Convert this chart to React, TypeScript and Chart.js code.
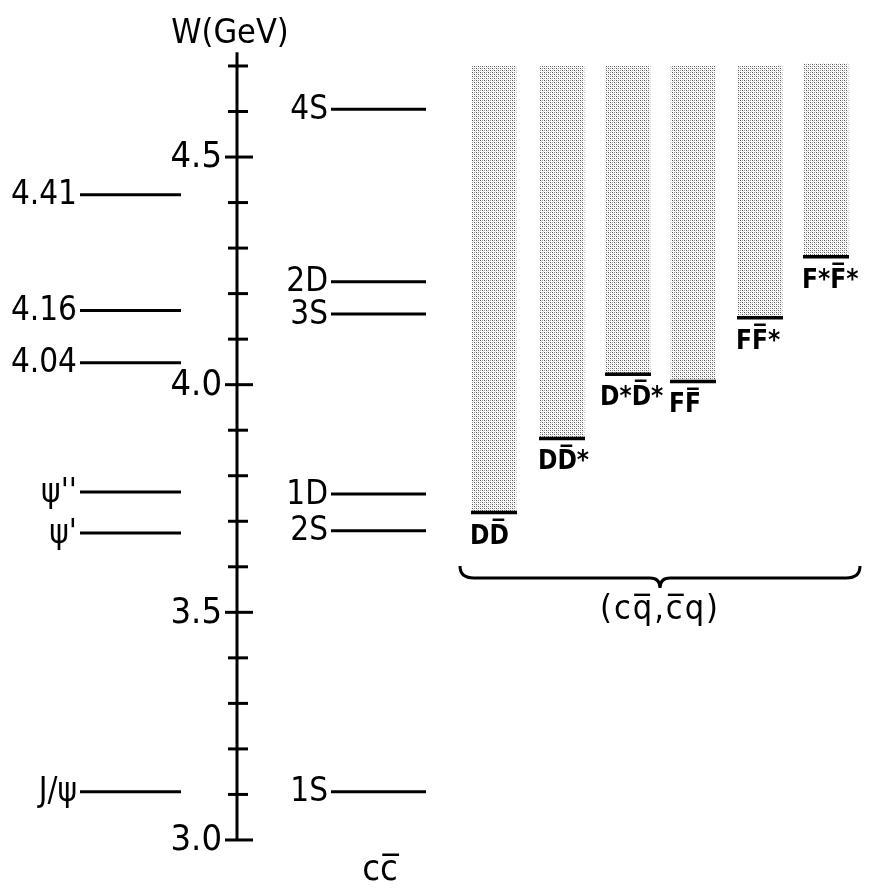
import React, { useEffect, useRef } from "react";
import { Chart, registerables } from "chart.js";
Chart.register(...registerables);

// ---------- data ----------
const observedNames = ["J/ψ", "ψ'", "ψ''", "4.04", "4.16", "4.41"];
const observedMass = [3.106, 3.674, 3.764, 4.048, 4.163, 4.417];
const modelNames = ["1S", "2S", "1D", "3S", "2D", "4S"];
const modelMass = [3.106, 3.679, 3.76, 4.155, 4.226, 4.605];
const channelNames = ["DD\u0305", "DD\u0305*", "D*D\u0305*", "FF\u0305", "FF\u0305*", "F*F\u0305*"];
const thresholdMass = [3.719, 3.882, 4.023, 4.007, 4.147, 4.281];
const bandTopMass = [4.7, 4.7, 4.7, 4.7, 4.7, 4.705];
const tickValues = [3.0, 3.1, 3.2, 3.3, 3.4, 3.5, 3.6, 3.7, 3.8, 3.9, 4.0, 4.1, 4.2, 4.3, 4.4, 4.5, 4.6, 4.7];
const tickLabelValues = [3.0, 3.5, 4.0, 4.5];
const tickLabels = ["3.0", "3.5", "4.0", "4.5"];
const axisMin = 3.0;
const axisMax = 4.73;
const axisTitle = "W(GeV)";
const modelTitle = "cc\u0305";
const channelTitle = "(cq\u0305,c\u0305q)";

// ---------- layout ----------
const W = 870;
const H = 888;
const Y_MIN = 2.8945;
const Y_MAX = 4.8449;
const AXIS_X = 237;
const OBS_X = [80, 181];
const MOD_X = [331, 426];
const BAND_X = [494, 562, 628, 693, 760, 826];
const BAND_W = 44;
const FONT = "'DejaVu Sans Condensed', 'DejaVu Sans', sans-serif";

function makePattern(): CanvasPattern | string {
  const c = document.createElement("canvas");
  c.width = 4;
  c.height = 4;
  const g = c.getContext("2d");
  if (!g) return "#bbb";
  g.fillStyle = "#fff";
  g.fillRect(0, 0, 4, 4);
  g.fillStyle = "#555";
  g.fillRect(0, 0, 1, 1);
  g.fillRect(2, 2, 1, 1);
  g.fillStyle = "#999";
  g.fillRect(2, 0, 1, 1);
  g.fillRect(0, 2, 1, 1);
  g.fillStyle = "#e0e0e0";
  g.fillRect(1, 1, 1, 1);
  g.fillRect(3, 3, 1, 1);
  return g.createPattern(c, "repeat") || "#bbb";
}

const seg = (x1: number, x2: number, v: number) => [
  { x: x1, y: v },
  { x: x2, y: v },
];

export default function App() {
  const ref = useRef<HTMLCanvasElement | null>(null);
  useEffect(() => {
    if (!ref.current) return;
    const pattern = makePattern();
    const lineDs = (data: any[], width = 3) => ({
      type: "line" as const,
      data,
      borderColor: "#000",
      borderWidth: width,
      pointRadius: 0,
      fill: false,
      tension: 0,
      spanGaps: false,
      order: 0,
      borderCapStyle: "butt" as const,
    });
    const datasets: any[] = [];
    datasets.push({
      type: "bar",
      data: BAND_X.map((x, i) => ({ x, y: [thresholdMass[i], bandTopMass[i]] })),
      backgroundColor: pattern,
      borderWidth: 0,
      barThickness: BAND_W,
      grouped: false,
      order: 5,
    });
    observedMass.forEach((m) => datasets.push(lineDs(seg(OBS_X[0], OBS_X[1], m), 3)));
    modelMass.forEach((m) => datasets.push(lineDs(seg(MOD_X[0], MOD_X[1], m), 3)));
    thresholdMass.forEach((m, i) =>
      datasets.push(lineDs(seg(BAND_X[i] - BAND_W / 2 - 1, BAND_X[i] + BAND_W / 2 + 1, m), 3.5))
    );
    // axis line
    datasets.push(lineDs([{ x: AXIS_X, y: axisMin }, { x: AXIS_X, y: axisMax }], 3));
    // tick marks
    tickValues.forEach((v) => {
      const major = tickLabelValues.some((t) => Math.abs(t - v) < 1e-6);
      datasets.push(lineDs(seg(AXIS_X - (major ? 12 : 9), AXIS_X + (major ? 16 : 11), v), 3));
    });

    const annot = {
      id: "annot",
      afterDatasetsDraw(chart: any) {
        const ctx = chart.ctx as CanvasRenderingContext2D;
        const ys = chart.scales.y;
        ctx.save();
        ctx.fillStyle = "#000";
        ctx.textBaseline = "middle";
        // tick labels
        ctx.font = `36px ${FONT}`;
        ctx.textAlign = "right";
        tickLabelValues.forEach((v, i) => {
          ctx.fillText(tickLabels[i], AXIS_X - 15, ys.getPixelForValue(v) + 1);
        });
        // level labels
        ctx.font = `33px ${FONT}`;
        observedMass.forEach((m, i) => {
          ctx.fillText(observedNames[i], OBS_X[0] - 3, ys.getPixelForValue(m) + 1);
        });
        modelMass.forEach((m, i) => {
          ctx.fillText(modelNames[i], MOD_X[0] - 3, ys.getPixelForValue(m) + 1);
        });
        // channel labels
        ctx.textAlign = "left";
        ctx.textBaseline = "alphabetic";
        ctx.font = `bold 26px ${FONT}`;
        thresholdMass.forEach((m, i) => {
          const x = BAND_X[i] - BAND_W / 2 - (i === 2 ? 6 : 2);
          ctx.fillText(channelNames[i], x, ys.getPixelForValue(m) + 31);
        });
        // titles
        ctx.textAlign = "center";
        ctx.font = `34px ${FONT}`;
        ctx.fillText(axisTitle, 230, 43);
        ctx.font = `36px ${FONT}`;
        ctx.fillText(modelTitle, 380, 880);
        // brace
        const bx1 = BAND_X[0] - BAND_W / 2 - 12;
        const bx2 = BAND_X[5] + BAND_W / 2 + 12;
        const mid = (bx1 + bx2) / 2;
        const top = 566;
        const by = 578;
        const tip = 588;
        ctx.strokeStyle = "#000";
        ctx.lineWidth = 3;
        ctx.beginPath();
        ctx.moveTo(bx1, top);
        ctx.quadraticCurveTo(bx1, by, bx1 + 14, by);
        ctx.lineTo(mid - 10, by);
        ctx.quadraticCurveTo(mid, by, mid, tip);
        ctx.quadraticCurveTo(mid, by, mid + 10, by);
        ctx.lineTo(bx2 - 14, by);
        ctx.quadraticCurveTo(bx2, by, bx2, top);
        ctx.stroke();
        ctx.font = `34px ${FONT}`;
        (ctx as any).letterSpacing = "2px";
        ctx.fillText(channelTitle, mid, 619);
        (ctx as any).letterSpacing = "0px";
        ctx.restore();
      },
    };

    const chart = new Chart(ref.current, {
      type: "bar",
      data: { datasets },
      options: {
        animation: false,
        responsive: false,
        devicePixelRatio: 1,
        layout: { padding: 0 },
        plugins: { legend: { display: false }, tooltip: { enabled: false } },
        scales: {
          x: { type: "linear", min: 0, max: W, offset: false, display: false },
          y: { type: "linear", min: Y_MIN, max: Y_MAX, display: false },
        },
      },
      plugins: [annot],
    } as any);
    return () => chart.destroy();
  }, []);
  return (
    <canvas
      ref={ref}
      width={W}
      height={H}
      style={{ position: "fixed", left: 0, top: 0, width: W, height: H, background: "#fff" }}
    />
  );
}
